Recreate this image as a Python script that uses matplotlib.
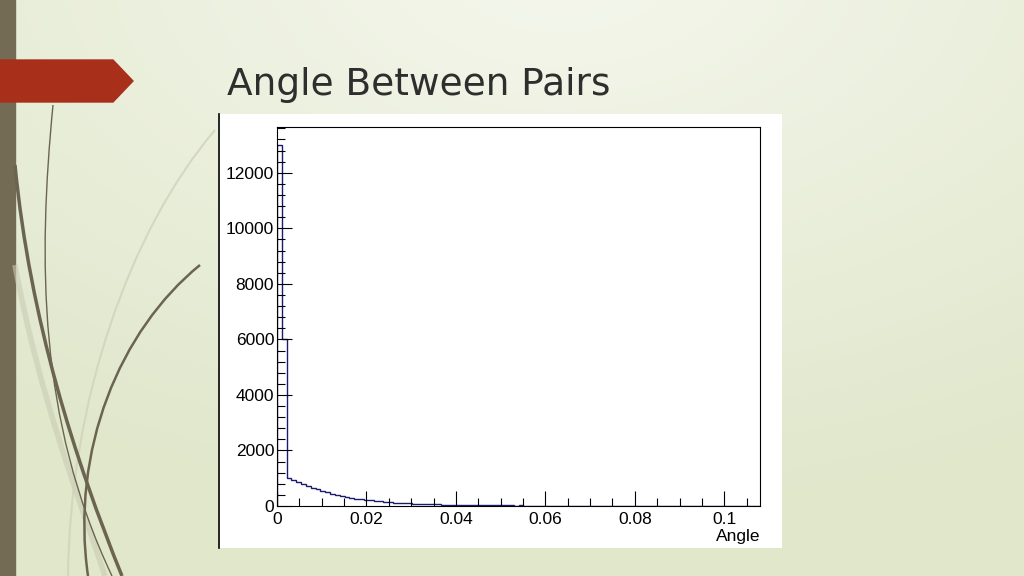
import numpy as np
import matplotlib.pyplot as plt
from matplotlib.path import Path
from matplotlib.patches import PathPatch, Polygon, Rectangle
from matplotlib.ticker import MultipleLocator, FuncFormatter

# histogram htemp: 100 bins of Angle
bin_lo = 0.0
bin_hi = 0.108
counts = [
    13000, 6000, 1010, 920, 850, 790, 720, 660, 600, 545,
    495, 445, 400, 365, 330, 300, 270, 245, 220, 200,
    180, 165, 150, 135, 125, 112, 100, 92, 85, 78,
    72, 66, 60, 56, 52, 48, 44, 42, 40, 36,
    34, 38, 30, 40, 26, 24, 34, 22, 20, 18,
    30, 16, 15, 15, 14, 14, 13, 13, 12, 12,
    12, 11, 11, 11, 10, 10, 10, 10, 9, 9,
    9, 9, 9, 8, 8, 8, 8, 8, 8, 7,
    7, 7, 7, 7, 7, 6, 6, 6, 6, 6,
    6, 5, 5, 5, 4, 3, 2, 1, 0, 0,
]
stats_names = ["Entries", "Mean", "RMS"]
stats_values = ["31010", "0.006977", "0.01355"]

W, H = 1024, 576
fig = plt.figure(figsize=(W / 100, H / 100), dpi=100)

# slide background in pixel coordinates
bg = fig.add_axes([0, 0, 1, 1])
bg.set_xlim(0, W)
bg.set_ylim(H, 0)
bg.axis("off")
yy, xx = np.mgrid[0:H:4, 0:W:4]
d = np.sqrt(((xx - 560) / 950.0) ** 2 + ((yy + 40) / 560.0) ** 2)
d = np.clip(d, 0, 1)[..., None]
light = np.array([245, 247, 237]) / 255.0
dark = np.array([224, 231, 203]) / 255.0
grad = light * (1 - d) + dark * d
bg.imshow(grad, extent=[0, W, H, 0], aspect="auto", zorder=0)

bg.add_patch(Rectangle((0, 0), 15, H, color="#746b55", zorder=1))
bg.add_patch(Polygon([(0, 60), (113, 60), (133, 81), (113, 102), (0, 102)],
                     closed=True, color="#a8301a", zorder=2))

curves = [
    ([(15, 265), (40, 400), (80, 500), (105, 576)], "#c8ccb2", 4, 0.6),
    ([(215, 130), (130, 230), (70, 400), (68, 576)], "#cfd3bb", 1.5, 0.8),
    ([(53, 105), (38, 260), (38, 420), (112, 576)], "#6b6450", 1.0, 1.0),
    ([(15, 165), (30, 320), (75, 460), (122, 576)], "#6b6450", 2.5, 1.0),
    ([(200, 265), (120, 330), (70, 450), (88, 576)], "#6b6450", 1.8, 1.0),
]
codes = [Path.MOVETO, Path.CURVE4, Path.CURVE4, Path.CURVE4]
for pts, col, lw, a in curves:
    bg.add_patch(PathPatch(Path(pts, codes), fill=False, edgecolor=col,
                           lw=lw, alpha=a, zorder=3))

bg.text(227, 95, "Angle Between Pairs", fontsize=27, color="#2e2e2e",
        family="DejaVu Sans", va="baseline", ha="left", zorder=4)

# white ROOT canvas
bg.add_patch(Rectangle((218, 114), 564, 434, facecolor="white",
                       edgecolor="none", zorder=4))
bg.plot([218.5, 218.5], [114, 548], color="black", lw=1.2, zorder=5)

# histogram pad
ax = fig.add_axes([277 / W, 1 - 506 / H, (760 - 277) / W, (506 - 127) / H])
ax.set_zorder(6)
ax.patch.set_facecolor("white")
edges = np.linspace(bin_lo, bin_hi, len(counts) + 1)
ax.stairs(counts, edges, color="#1b1b6e", lw=1.0)
ax.set_xlim(bin_lo, bin_hi)
ax.set_ylim(0, 1.05 * max(counts))

ax.xaxis.set_major_locator(MultipleLocator(0.02))
ax.xaxis.set_minor_locator(MultipleLocator(0.005))
ax.yaxis.set_major_locator(MultipleLocator(2000))
ax.yaxis.set_minor_locator(MultipleLocator(400))
ax.xaxis.set_major_formatter(FuncFormatter(lambda v, p: "0" if abs(v) < 1e-12 else f"{v:g}"))
ax.tick_params(which="both", direction="in", top=False, right=False,
               labelsize=12.5, width=0.8, color="black")
ax.tick_params(which="major", length=11)
ax.tick_params(which="minor", length=6)
ax.tick_params(axis="x", pad=4)
ax.tick_params(axis="y", pad=2)
for lab in ax.get_xticklabels() + ax.get_yticklabels():
    lab.set_family("Liberation Sans")
for s in ax.spines.values():
    s.set_linewidth(0.8)
ax.set_xlabel("Angle", fontsize=12.5, family="Liberation Sans", loc="right", labelpad=2)

# stats box
bx0, bx1, by0, by1, bsep = 607, 728, 130, 206, 150
bg.add_patch(Rectangle((bx0, by0), bx1 - bx0, by1 - by0, facecolor="white",
                       edgecolor="black", lw=0.9, zorder=8))
bg.plot([bx0, bx1], [bsep, bsep], color="black", lw=0.9, zorder=9)
bg.text((bx0 + bx1) / 2, 140, "htemp", fontsize=11, family="Liberation Sans",
        ha="center", va="center", zorder=9)
for i, (n, v) in enumerate(zip(stats_names, stats_values)):
    y = 159 + i * 19
    bg.text(bx0 + 5, y, n, fontsize=9.5, family="Liberation Sans",
            ha="left", va="center", zorder=9)
    bg.text(bx1 - 7, y, v, fontsize=9.5, family="Liberation Sans",
            ha="right", va="center", zorder=9)

fig.savefig("out.png", dpi=100)
